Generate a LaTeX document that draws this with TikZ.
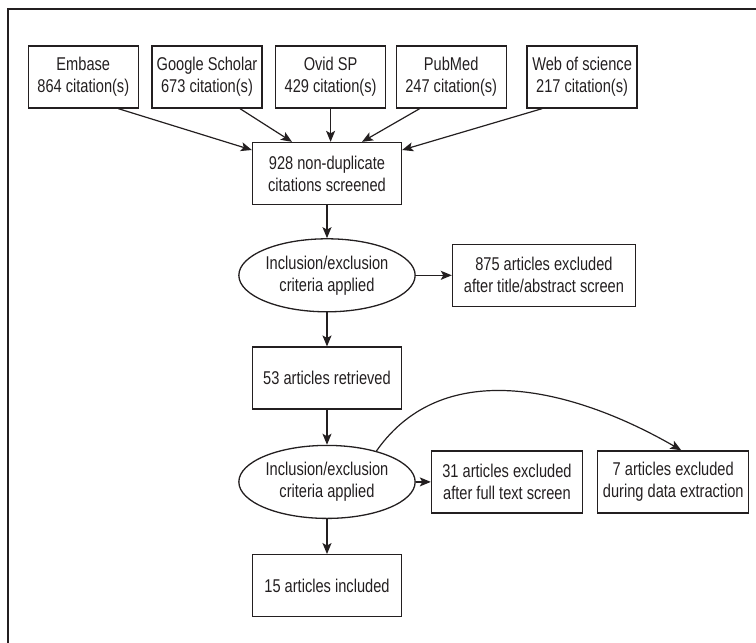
\documentclass[tikz,border=0pt]{standalone}
\usepackage{fontspec}
\setmainfont{Liberation Sans}[FakeStretch=0.79]
\usepackage{tikz}
\usetikzlibrary{positioning, arrows.meta, shapes.geometric}
\definecolor{ink}{HTML}{231F20}
\tikzset{
  src/.style   = {rectangle, draw=ink, line width=1.3pt, text=ink,
                  minimum width=110pt, minimum height=62pt, inner sep=2pt,
                  align=center, font=\fontsize{18.5}{22}\selectfont},
  stage/.style = {src, minimum width=149pt},
  excl/.style  = {src, minimum width=151pt},
  crit/.style  = {ellipse, draw=ink, line width=1.3pt, text=ink,
                  minimum width=170pt, minimum height=73pt, inner sep=1pt,
                  align=center, font=\fontsize{18.5}{22}\selectfont},
  arr/.style   = {-{Stealth[length=11pt,width=9pt,inset=2.5pt]},
                  line width=1.2pt, draw=ink},
  frame/.style = {draw=ink, line width=1.4pt},
}

\begin{document}
\begin{tikzpicture}[x=1pt, y=-1pt]
  \useasboundingbox (0,0) rectangle (756,643);
  \draw[frame] (8,643) |- (756,9);

  % sources
  \node[src] (emb) at (83.3,77) {Embase\\864 citation(s)};
  \node[src, right=12.4pt of emb]  (goo)  {Google Scholar\\673 citation(s)};
  \node[src, right=12.3pt of goo]  (ovid) {Ovid SP\\429 citation(s)};
  \node[src, right=9.3pt of ovid]  (pub)  {PubMed\\247 citation(s)};
  \node[src, right=19.6pt of pub]  (wos)  {Web of science\\217 citation(s)};

  % screening chain
  \node[stage] (nd) at (327,173.5) {928 non-duplicate\\citations screened};
  \node[crit, below=33pt of nd]   (inc1) {Inclusion/exclusion\\criteria applied};
  \node[src, right=36pt of inc1, minimum width=183pt] (exc1)
        {875 articles excluded\\after title/abstract screen};
  \node[stage, below=34pt of inc1] (ret)  {53 articles retrieved};
  \node[crit, below=35pt of ret]   (inc2) {Inclusion/exclusion\\criteria applied};
  \node[excl, right=15pt of inc2]  (exc2) {31 articles excluded\\after full text screen};
  \node[excl, right=14pt of exc2]  (exc3) {7 articles excluded\\during data extraction};
  \node[stage, below=35pt of inc2] (incl) {15 articles included};

  \draw[arr] ([xshift=35pt]emb.south)    -- ([yshift=23.5pt]nd.west);
  \draw[arr] ([xshift=33pt]goo.south)    -- ([xshift=-35pt]nd.north);
  \draw[arr] (ovid.south)                -- (ovid.south |- nd.north);
  \draw[arr] ([xshift=-31.5pt]pub.south) -- ([xshift=35pt]nd.north);
  \draw[arr] ([xshift=-40pt]wos.south)   -- ([yshift=23.5pt]nd.east);

  \draw[arr] (nd)   -- (inc1);
  \draw[arr] (inc1) -- (exc1);
  \draw[arr] (inc1) -- (ret);
  \draw[arr] (ret)  -- (inc2);
  \draw[arr] (inc2) -- (exc2);
  \draw[arr] (inc2) -- (incl);
  \draw[arr] (inc2.32) to[out=55, in=150] ([xshift=8pt]exc3.north);

\end{tikzpicture}
\end{document}
